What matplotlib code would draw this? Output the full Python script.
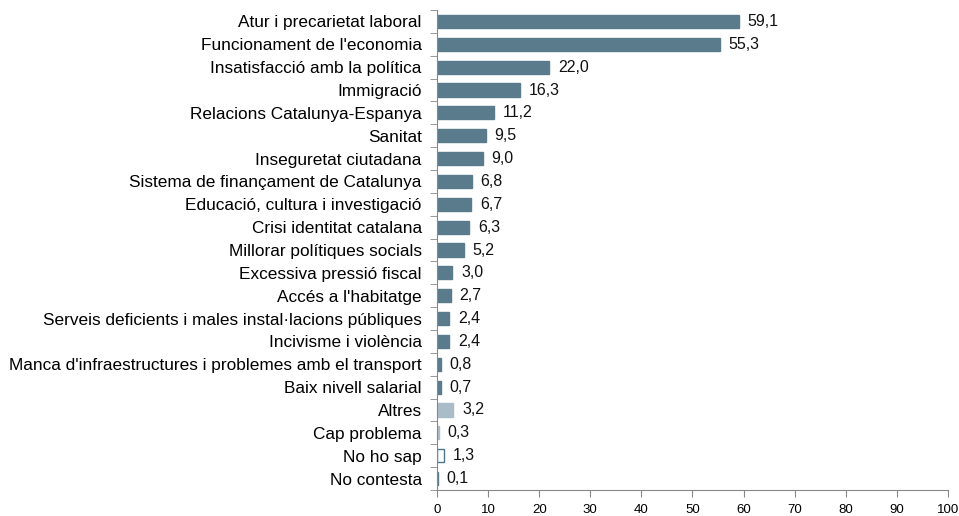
import numpy as np
import matplotlib.pyplot as plt

plt.rcParams['font.family'] = ['Liberation Sans', 'DejaVu Sans']

categories = [
    "Atur i precarietat laboral",
    "Funcionament de l'economia",
    "Insatisfacció amb la política",
    "Immigració",
    "Relacions Catalunya-Espanya",
    "Sanitat",
    "Inseguretat ciutadana",
    "Sistema de finançament de Catalunya",
    "Educació, cultura i investigació",
    "Crisi identitat catalana",
    "Millorar polítiques socials",
    "Excessiva pressió fiscal",
    "Accés a l'habitatge",
    "Serveis deficients i males instal·lacions públiques",
    "Incivisme i violència",
    "Manca d'infraestructures i problemes amb el transport",
    "Baix nivell salarial",
    "Altres",
    "Cap problema",
    "No ho sap",
    "No contesta",
]
values = [59.1, 55.3, 22.0, 16.3, 11.2, 9.5, 9.0, 6.8, 6.7, 6.3, 5.2,
          3.0, 2.7, 2.4, 2.4, 0.8, 0.7, 3.2, 0.3, 1.3, 0.1]

dark = '#5a7b8c'
light = '#aabcc7'
face = [dark] * 17 + [light, light, 'white', dark]
edge = [dark] * 17 + [light, light, '#4f7690', dark]

fig = plt.figure(figsize=(9.59, 5.16), dpi=100)
ax = fig.add_axes([0.4557, 0.0504, 0.5328, 0.9302])

y = np.arange(len(categories))
ax.barh(y, values, height=0.58, color=face, edgecolor=edge, linewidth=1.0)
for yi, v in zip(y, values):
    ax.text(v + 1.7, yi, f"{v:.1f}".replace('.', ','), va='center', ha='left',
            fontsize=11.5, color='#111111')

ax.set_yticks(y)
ax.set_yticklabels(categories, fontsize=12.4)
ax.set_yticks(np.arange(-0.5, len(categories) + 0.5, 1), minor=True)
ax.tick_params(axis='y', which='major', length=0, pad=11)
ax.tick_params(axis='y', which='minor', length=5, color='#888888', direction='out')
ax.set_ylim(len(categories) - 0.5, -0.5)

ax.set_xlim(0, 100)
ax.set_xticks(np.arange(0, 101, 10))
ax.tick_params(axis='x', labelsize=9.5, length=5, color='#888888', pad=5)

for s in ['top', 'right']:
    ax.spines[s].set_visible(False)
for s in ['left', 'bottom']:
    ax.spines[s].set_color('#888888')

fig.savefig('out.png', dpi=100)
